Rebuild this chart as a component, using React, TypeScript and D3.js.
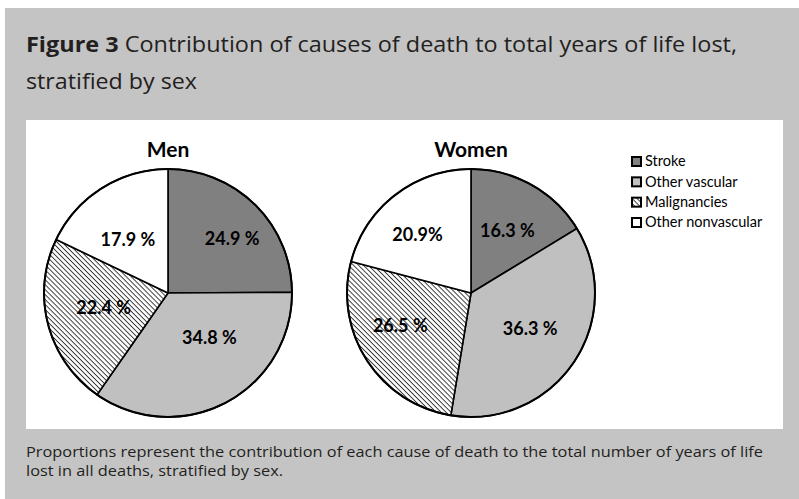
import * as d3 from "d3";

// shares of years of life lost (%)
const causes = ["Stroke", "Other vascular", "Malignancies", "Other nonvascular"];
const groups = ["Men", "Women"];
const menShares = [24.9, 34.8, 22.4, 17.9];
const womenShares = [16.3, 36.3, 26.5, 20.9];
const menLabels = ["24.9 %", "34.8 %", "22.4 %", "17.9 %"];
const womenLabels = ["16.3 %", "36.3 %", "26.5 %", "20.9%"];

const titleBold = "Figure 3";
const titleRest = " Contribution of causes of death to total years of life lost,";
const titleLine2 = "stratified by sex";
const noteLines = [
  "Proportions represent the contribution of each cause of death to the total number of years of life",
  "lost in all deaths, stratified by sex.",
];

const width = 799;
const height = 499;
const radius = 124;
const pieCy = 293;
const pieCx = [168, 471];
const FILLS = ["#808080", "#c0c0c0", "url(#hatch)", "#ffffff"];
const BG = "#c4c4c4";
const TEXT = "#231f20";
const FONT = "'Open Sans', sans-serif";

// label placement tweaks, Excel "best fit" style: [angle nudge (deg), distance from centre]
const labelNudge = [
  [
    [5, 84],
    [-15, 61],
    [2, 66],
    [-4.5, 67],
  ],
  [
    [1, 72],
    [-3, 69],
    [8, 78],
    [-5, 79],
  ],
];

export default function App() {
  const pie = d3
    .pie<number>()
    .sort(null)
    .value((d) => d);
  const arc = d3
    .arc<d3.PieArcDatum<number>>()
    .innerRadius(0)
    .outerRadius(radius);

  const series = [menShares, womenShares];
  const labels = [menLabels, womenLabels];

  const legendY = d3
    .scalePoint<string>()
    .domain(causes)
    .range([161, 222]);

  return (
    <svg
      width={width}
      height={height}
      style={{ position: "absolute", left: 0, top: 0 }}
      fontFamily={FONT}
    >
      <defs>
        <pattern
          id="hatch"
          patternUnits="userSpaceOnUse"
          width={8}
          height={3.5}
          patternTransform="rotate(45)"
        >
          <rect width={8} height={3.5} fill="#fff" />
          <line x1={0} y1={0.5} x2={8} y2={0.5} stroke="#000" strokeWidth={0.8} />
        </pattern>
      </defs>
      <rect x={0} y={0} width={width} height={height} fill="#fff" />
      <rect x={5} y={8} width={width - 5} height={height - 8} fill={BG} />

      <text x={26} y={52} fontSize={22} fill={TEXT} textLength={711} lengthAdjust="spacingAndGlyphs">
        <tspan fontWeight="bold">{titleBold}</tspan>
        <tspan>{titleRest}</tspan>
      </text>
      <text x={26} y={89} fontSize={22} fill={TEXT} textLength={171} lengthAdjust="spacingAndGlyphs">
        {titleLine2}
      </text>

      <rect x={26} y={120} width={757} height={309} fill="#fff" />

      {series.map((vals, gi) => {
        const arcs = pie(vals);
        return (
          <g key={groups[gi]} transform={`translate(${pieCx[gi]},${pieCy})`}>
            <text
              y={-136}
              textAnchor="middle"
              fontSize={21}
              fontWeight="bold"
              fill="#000"
              fontFamily="Lato, sans-serif"
            >
              {groups[gi]}
            </text>
            {arcs.map((a, i) => (
              <path
                key={causes[i]}
                d={arc(a) ?? ""}
                fill={FILLS[i]}
                stroke="#000"
                strokeWidth={1.6}
                strokeLinejoin="round"
              />
            ))}
            <circle r={radius} fill="none" stroke="#000" strokeWidth={2} />
            {arcs.map((a, i) => {
              const [nudge, dist] = labelNudge[gi][i];
              const ang = (a.startAngle + a.endAngle) / 2 + (nudge * Math.PI) / 180;
              const x = Math.sin(ang) * dist;
              const y = -Math.cos(ang) * dist;
              return (
                <text
                  key={causes[i]}
                  x={x}
                  y={y}
                  dy="0.36em"
                  textAnchor="middle"
                  fontSize={18}
                  fontWeight="bold"
                  fill="#000"
                  fontFamily="Lato, sans-serif"
                >
                  {labels[gi][i]}
                </text>
              );
            })}
          </g>
        );
      })}

      {causes.map((c, i) => (
        <g key={c} transform={`translate(631,${legendY(c)})`}>
          <rect x={1} y={-4} width={9} height={9} fill={FILLS[i]} stroke="#000" strokeWidth={2} />
          <text x={14} y={0} dy="0.36em" fontSize={14.5} fill="#000" fontFamily="Lato, sans-serif">
            {c}
          </text>
        </g>
      ))}

      {noteLines.map((t, i) => (
        <text
          key={i}
          x={26}
          y={457 + i * 19}
          fontSize={15}
          fill={TEXT}
          textLength={i === 0 ? 737 : 257}
          lengthAdjust="spacingAndGlyphs"
        >
          {t}
        </text>
      ))}
    </svg>
  );
}
